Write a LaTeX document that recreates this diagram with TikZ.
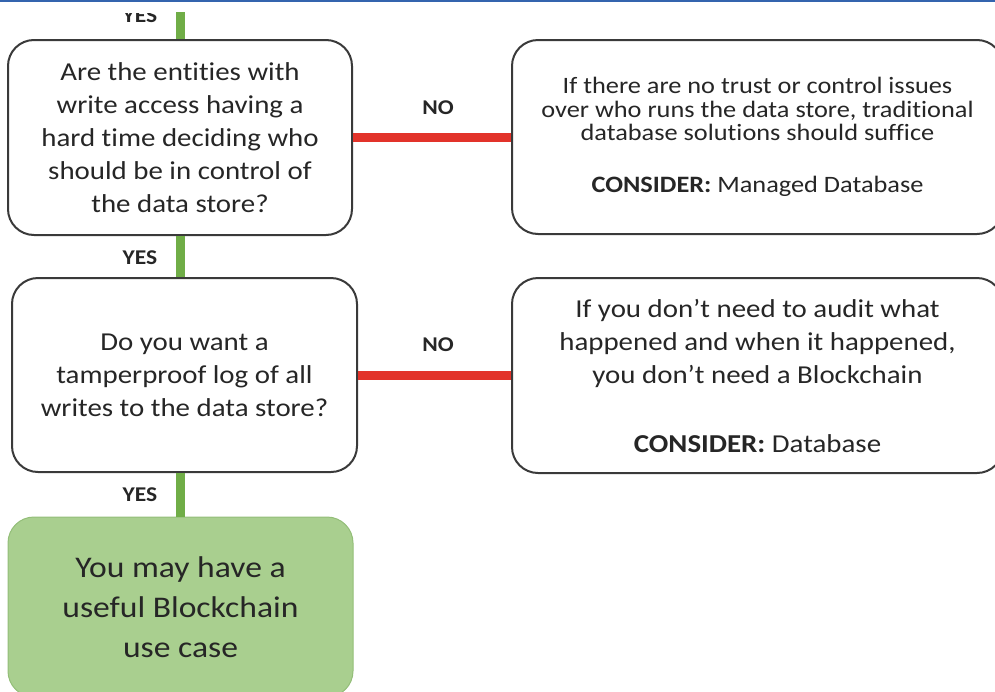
\documentclass[tikz,border=0pt]{standalone}
\usepackage{fontspec}
\setmainfont{Carlito}[FakeStretch=1.12, Ligatures=NoCommon]
\definecolor{inkgray}{HTML}{262626}
\definecolor{boxline}{HTML}{3A3A3A}
\definecolor{yesgreen}{HTML}{70AD47}
\definecolor{nored}{HTML}{E2332A}
\definecolor{resultfill}{HTML}{A9CF8F}
\definecolor{resultline}{HTML}{93BE78}
\definecolor{topblue}{HTML}{3464AE}
\tikzset{
  qbox/.style={draw=boxline, line width=2pt, rounded corners=26pt, fill=white,
    align=center, text=inkgray, inner sep=0pt},
  resultbox/.style={draw=resultline, line width=1pt, rounded corners=26pt, fill=resultfill,
    align=center, text=inkgray, inner sep=0pt},
  yesline/.style={draw=yesgreen, line width=9pt},
  noline/.style={draw=nored, line width=9pt},
  answer/.style={font=\fontsize{21}{24}\selectfont\bfseries, text=inkgray, inner sep=0pt},
}
\begin{document}
\begin{tikzpicture}[x=1pt, y=-1pt]
\useasboundingbox (0,0) rectangle (995,691);

% question and advice boxes
\node[qbox, minimum width=344pt, minimum height=195pt,
      font=\fontsize{25.8}{33}\selectfont] (q1) at (180,137.5)
  {Are the entities with\\write access having a\\hard time deciding who\\should be in control of\\the data store?};
\node[qbox, minimum width=491pt, minimum height=194pt,
      font=\fontsize{23.5}{23.5}\selectfont] (a1) at (757.5,137)
  {If there are no trust or control issues\\over who runs the data store, traditional\\database solutions should suffice\\[28.5pt]\textbf{CONSIDER:} Managed Database};
\node[qbox, minimum width=345pt, minimum height=194pt,
      font=\fontsize{25.8}{33}\selectfont] (q2) at (184.5,375)
  {Do you want a\\tamperproof log of all\\writes to the data store?};
\node[qbox, minimum width=491pt, minimum height=195pt,
      font=\fontsize{25.8}{33}\selectfont] (a2) at (757.5,375.5)
  {If you don’t need to audit what\\happened and when it happened,\\you don’t need a Blockchain\\[36pt]\textbf{CONSIDER:} Database};
\node[resultbox, minimum width=345pt, minimum height=180pt,
      font=\fontsize{30}{40}\selectfont] (res) at (180.5,607)
  {You may have a\\useful Blockchain\\use case};

% connectors
\coordinate (entry) at (180,12);
\draw[yesline] (entry) -- (q1.north);
\draw[yesline] (q1.south) -- (q1.south |- q2.north);
\draw[yesline] (q2.south -| q1.south) -- (q1.south |- res.north);
\draw[noline] (q1.east) -- (q1.east -| a1.west);
\draw[noline] (q2.east) -- (q2.east -| a2.west);

% branch labels
\begin{scope}
  \clip (0,13) rectangle (995,40);
  \node[answer] (yes0) at (140,15.5) {YES};
\end{scope}
\node[answer] (yes1) at (140,257.5) {YES};
\node[answer] (yes2) at (140,495) {YES};
\node[answer] (no1) at (438,108) {NO};
\node[answer] (no2) at (438,345) {NO};

% page rule along the top edge
\fill[topblue] (0,0) rectangle (995,1.8);
\end{tikzpicture}
\end{document}
